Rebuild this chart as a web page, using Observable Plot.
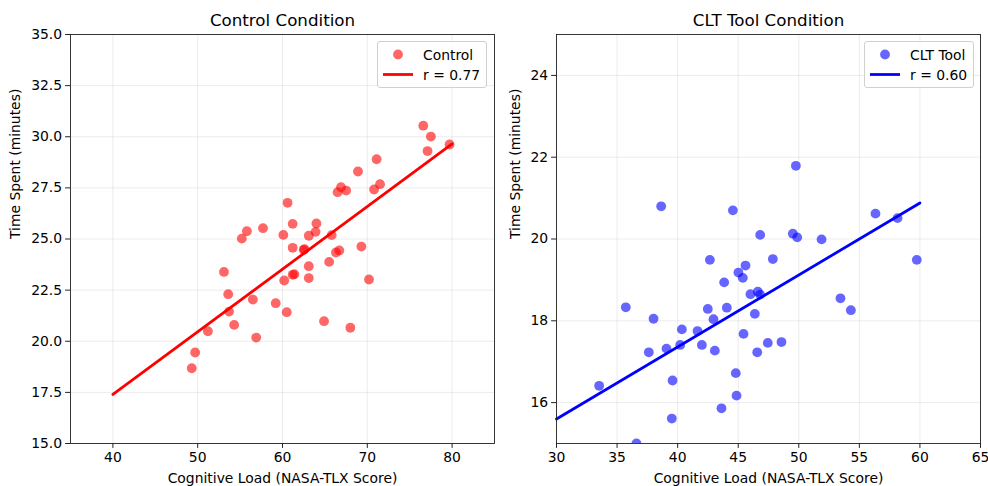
<!DOCTYPE html>
<html>
<head>
<meta charset="utf-8">
<script src="https://cdn.jsdelivr.net/npm/d3@7"></script>
<script src="https://cdn.jsdelivr.net/npm/@observablehq/plot@0.6"></script>
<style>
  html, body { margin: 0; padding: 0; background: white; }
  #wrap { position: relative; width: 988px; height: 486px; font-family: "DejaVu Sans", sans-serif; }
  .panel { position: absolute; top: 0; }
  .legend { position: absolute; box-sizing: border-box; border: 1px solid #d0d0d0; border-radius: 3px; background: rgba(255,255,255,0.8); }
</style>
</head>
<body>
<div id="wrap"></div>
<script>
// ---- Control condition data ----
const controlLoad = [76.6, 77.5, 77.1, 79.7, 71.1, 68.9, 71.5, 70.8, 66.9, 66.5, 67.5, 60.6, 61.2, 64.0, 63.9, 63.1, 65.8, 60.1, 57.7, 55.8, 55.2, 61.2, 62.6, 62.5, 66.7, 66.3, 69.3, 65.5, 63.1, 53.1, 61.2, 61.4, 63.1, 60.2, 70.2, 53.6, 56.5, 59.2, 53.7, 60.5, 54.3, 64.9, 51.2, 68.0, 56.9, 49.7, 49.3];
const controlTime = [30.54, 30.01, 29.3, 29.62, 28.9, 28.3, 27.68, 27.42, 27.53, 27.29, 27.37, 26.77, 25.74, 25.76, 25.35, 25.16, 25.19, 25.2, 25.53, 25.38, 25.02, 24.57, 24.5, 24.47, 24.44, 24.34, 24.63, 23.88, 23.67, 23.39, 23.25, 23.28, 23.09, 22.97, 23.02, 22.3, 22.04, 21.86, 21.45, 21.42, 20.8, 20.98, 20.49, 20.66, 20.18, 19.45, 18.68];
const controlFitX = [40, 80];
const controlFitY = [17.4, 29.65];

// ---- CLT Tool condition data ----
const cltLoad = [38.64, 44.56, 49.76, 46.81, 49.51, 49.87, 51.88, 56.33, 58.15, 42.66, 47.86, 59.74, 45.6, 45.02, 45.38, 43.84, 46.01, 46.62, 46.81, 53.44, 54.3, 46.37, 35.72, 42.49, 44.06, 38.01, 42.96, 40.35, 41.64, 45.44, 40.21, 42.0, 39.08, 37.62, 43.07, 47.44, 48.57, 46.57, 44.8, 39.58, 33.52, 44.86, 43.62, 39.52, 36.6];
const cltTime = [20.8, 20.7, 21.79, 20.1, 20.13, 20.04, 19.99, 20.62, 20.51, 19.49, 19.51, 19.49, 19.35, 19.18, 19.05, 18.94, 18.65, 18.71, 18.64, 18.55, 18.26, 18.17, 18.33, 18.29, 18.32, 18.05, 18.04, 17.79, 17.75, 17.68, 17.41, 17.41, 17.32, 17.23, 17.27, 17.46, 17.48, 17.23, 16.72, 16.54, 16.41, 16.17, 15.86, 15.61, 15.0];
const cltFitX = [30, 60];
const cltFitY = [15.6, 20.88];

// ---- Ticks / labels ----
const controlXTicks = [40, 50, 60, 70, 80];
const controlYTicks = [15, 17.5, 20, 22.5, 25, 27.5, 30, 32.5, 35];
const cltXTicks = [30, 35, 40, 45, 50, 55, 60, 65];
const cltYTicks = [16, 18, 20, 22, 24];
const titles = ["Control Condition", "CLT Tool Condition"];
const xLabel = "Cognitive Load (NASA-TLX Score)";
const yLabel = "Time Spent (minutes)";
const seriesNames = ["Control", "CLT Tool"];
const rLabels = ["r = 0.77", "r = 0.60"];

function panel(cfg) {
  const pts = cfg.xs.map((x, i) => ({x, y: cfg.ys[i]}));
  const fit = cfg.fx.map((x, i) => ({x, y: cfg.fy[i]}));
  return Plot.plot({
    width: cfg.width, height: 486,
    marginLeft: cfg.ml, marginRight: cfg.mr, marginTop: 34, marginBottom: 43,
    style: {fontFamily: "DejaVu Sans, sans-serif", fontSize: "13.9px", color: "#000", background: "transparent", overflow: "visible"},
    x: {domain: cfg.xdom},
    y: {domain: cfg.ydom},
    marks: [
      Plot.gridX(cfg.xt, {stroke: "#b0b0b0", strokeOpacity: 0.3, strokeWidth: 0.8}),
      Plot.gridY(cfg.yt, {stroke: "#b0b0b0", strokeOpacity: 0.3, strokeWidth: 0.8}),
      Plot.dot(pts, {x: "x", y: "y", r: 4.9, fill: cfg.color, fillOpacity: 0.6, stroke: null, clip: true}),
      Plot.line(fit, {x: "x", y: "y", stroke: cfg.color, strokeWidth: 2.78}),
      Plot.frame({stroke: "#222", strokeWidth: 0.9}),
      Plot.axisX(cfg.xt, {tickSize: 4.9, tickPadding: 3.5, label: null, fontSize: 13.9, stroke: "#222"}),
      Plot.axisY(cfg.yt, {tickSize: 4.9, tickPadding: 3.5, label: null, fontSize: 13.9, stroke: "#222", tickFormat: cfg.yfmt}),
      Plot.text([cfg.title], {frameAnchor: "top", dy: -14, lineAnchor: "middle", fontSize: 16.7}),
      Plot.text([xLabel], {frameAnchor: "bottom", dy: 35, lineAnchor: "middle", fontSize: 13.9}),
      Plot.text([yLabel], {frameAnchor: "left", dx: cfg.ylabDx, rotate: -90, lineAnchor: "middle", fontSize: 13.9})
    ]
  });
}

function legend(left, color, name, r) {
  const div = document.createElement("div");
  div.className = "legend";
  div.style.left = left + "px";
  div.style.top = "41px";
  div.style.width = "110px";
  div.style.height = "47px";
  div.innerHTML = `<svg width="108" height="45" style="position:absolute;left:0;top:0;font-family:'DejaVu Sans',sans-serif;font-size:13.9px">
    <circle cx="20" cy="12.5" r="4.9" fill="${color}" fill-opacity="0.6"></circle>
    <text x="45" y="17.5" fill="#000">${name}</text>
    <line x1="5" x2="35" y1="32.5" y2="32.5" stroke="${color}" stroke-width="2.78"></line>
    <text x="45" y="37.5" fill="#000">${r}</text>
  </svg>`;
  return div;
}

const wrap = document.getElementById("wrap");
const p1 = panel({xs: controlLoad, ys: controlTime, fx: controlFitX, fy: controlFitY,
  xdom: [35, 85], ydom: [15, 35], xt: controlXTicks, yt: controlYTicks, color: "red",
  width: 500, ml: 70, mr: 6, title: titles[0], ylabDx: -55, yfmt: d3.format(".1f")});
p1.classList.add("panel"); p1.style.left = "0px";
wrap.appendChild(p1);

const p2 = panel({xs: cltLoad, ys: cltTime, fx: cltFitX, fy: cltFitY,
  xdom: [30, 65], ydom: [15, 25], xt: cltXTicks, yt: cltYTicks, color: "blue",
  width: 488, ml: 56, mr: 8, title: titles[1], ylabDx: -41, yfmt: d3.format("d")});
p2.classList.add("panel"); p2.style.left = "500px";
wrap.appendChild(p2);

wrap.appendChild(legend(377, "red", seriesNames[0], rLabels[0]));
wrap.appendChild(legend(864, "blue", seriesNames[1], rLabels[1]));
</script>
</body>
</html>
